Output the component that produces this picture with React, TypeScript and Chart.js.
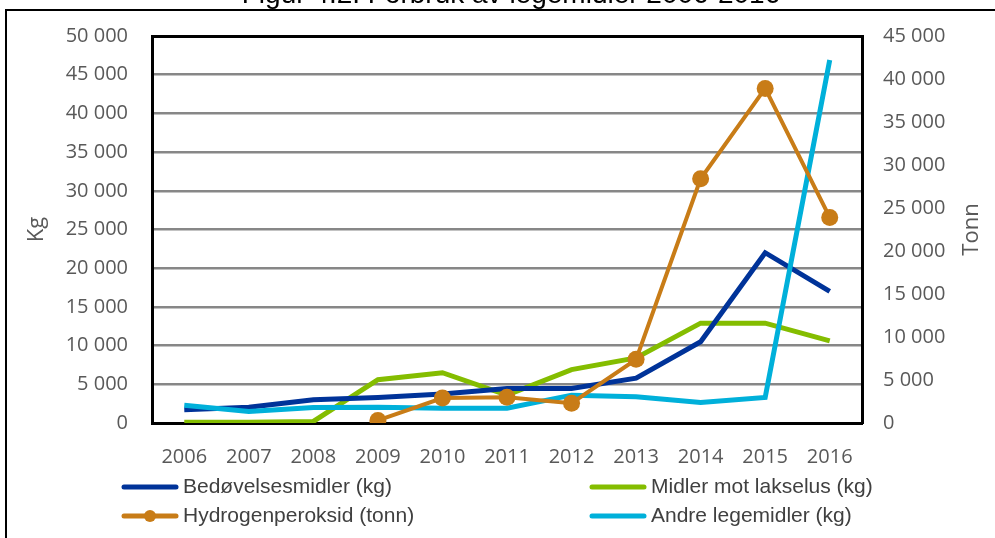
import React, { useEffect, useRef } from "react";
import { Chart, registerables } from "chart.js";

Chart.register(...registerables);

const titleText = "Figur 4.2. Forbruk av legemidler 2006-2016";
const years = ["2006", "2007", "2008", "2009", "2010", "2011", "2012", "2013", "2014", "2015", "2016"];
const seriesNames = [
  "Bedøvelsesmidler (kg)",
  "Midler mot lakselus (kg)",
  "Hydrogenperoksid (tonn)",
  "Andre legemidler (kg)",
];
const bedovelse = [1700, 2050, 3000, 3300, 3750, 4450, 4450, 5800, 10500, 22000, 17000];
const lakselus = [100, 100, 200, 5600, 6500, 3600, 6900, 8400, 12900, 12900, 10600];
const hydrogen = [null, null, null, 300, 2900, 3000, 2300, 7400, 28400, 38900, 23900];
const andre = [2300, 1500, 2000, 2050, 1900, 1900, 3600, 3400, 2650, 3300, 46900];
const leftAxis = { min: 0, max: 50000, step: 5000, title: "Kg" };
const rightAxis = { min: 0, max: 45000, step: 5000, title: "Tonn" };

const COLORS = ["#003399", "#84BD00", "#C87C17", "#00B0DA"];
const TICK_FONT = { family: "'Open Sans', sans-serif", size: 20 };
const TICK_COLOR = "#595959";
const LEGEND_FONT = "21px 'Liberation Sans', Arial, sans-serif";

const fmt = (v: number | string) =>
  String(v).replace(/\B(?=(\d{3})+(?!\d))/g, " ");

const framePlugin = {
  id: "frame",
  beforeDraw(chart: any) {
    const ctx = chart.ctx;
    ctx.save();
    ctx.fillStyle = "#ffffff";
    ctx.fillRect(0, 0, chart.width, chart.height);
    ctx.fillStyle = "#000000";
    ctx.font = "28px 'Liberation Sans', Arial, sans-serif";
    ctx.textAlign = "center";
    ctx.textBaseline = "alphabetic";
    ctx.fillText(titleText, 511, 3);
    ctx.strokeStyle = "#000000";
    ctx.lineWidth = 2;
    ctx.beginPath();
    ctx.moveTo(6, chart.height);
    ctx.lineTo(6, 10);
    ctx.lineTo(chart.width, 10);
    ctx.stroke();
    ctx.restore();
  },
  afterDraw(chart: any) {
    const ctx = chart.ctx;
    ctx.save();
    const area = chart.chartArea;
    ctx.translate(972, (area.top + area.bottom) / 2);
    ctx.rotate(-Math.PI / 2);
    ctx.font = "22px 'Open Sans', sans-serif";
    ctx.fillStyle = TICK_COLOR;
    ctx.textAlign = "center";
    ctx.textBaseline = "middle";
    ctx.fillText(rightAxis.title, 0, 0);
    ctx.restore();

    const colX = [122, 590];
    const rowY = [487, 516];
    const order = [0, 1, 2, 3];
    ctx.save();
    order.forEach((di, i) => {
      const ds = chart.data.datasets[di];
      const x0 = colX[i % 2];
      const y = rowY[Math.floor(i / 2)];
      ctx.strokeStyle = ds.borderColor;
      ctx.lineWidth = 5;
      ctx.lineCap = "round";
      ctx.beginPath();
      ctx.moveTo(x0 + 2, y);
      ctx.lineTo(x0 + 54, y);
      ctx.stroke();
      if (ds.pointRadius > 0) {
        ctx.fillStyle = ds.borderColor;
        ctx.beginPath();
        ctx.arc(x0 + 28, y, 6, 0, Math.PI * 2);
        ctx.fill();
      }
      ctx.fillStyle = "#404040";
      ctx.font = LEGEND_FONT;
      ctx.textAlign = "left";
      ctx.textBaseline = "middle";
      ctx.fillText(ds.label, x0 + 61, y);
    });
    ctx.restore();
  },
};

export default function App() {
  const ref = useRef<HTMLCanvasElement | null>(null);
  useEffect(() => {
    if (!ref.current) return;
    const chart = new Chart(ref.current, {
      type: "line",
      data: {
        labels: years,
        datasets: [
          {
            label: seriesNames[0],
            data: bedovelse,
            borderColor: COLORS[0],
            backgroundColor: COLORS[0],
            borderWidth: 5,
            pointRadius: 0,
            yAxisID: "y",
            order: 3,
          },
          {
            label: seriesNames[1],
            data: lakselus,
            borderColor: COLORS[1],
            backgroundColor: COLORS[1],
            borderWidth: 5,
            pointRadius: 0,
            yAxisID: "y",
            order: 4,
          },
          {
            label: seriesNames[2],
            data: hydrogen as any,
            borderColor: COLORS[2],
            backgroundColor: COLORS[2],
            pointBackgroundColor: COLORS[2],
            pointBorderWidth: 0,
            borderWidth: 4,
            pointRadius: 8.5,
            yAxisID: "y1",
            order: 1,
          },
          {
            label: seriesNames[3],
            data: andre,
            borderColor: COLORS[3],
            backgroundColor: COLORS[3],
            borderWidth: 5,
            pointRadius: 0,
            yAxisID: "y",
            order: 2,
          },
        ],
      },
      options: {
        animation: false,
        responsive: false,
        maintainAspectRatio: false,
        layout: { padding: { top: 33, left: 0, right: 0, bottom: 0 } },
        plugins: {
          legend: { display: false },
          title: { display: false },
          tooltip: { enabled: false },
        },
        scales: {
          x: {
            offset: true,
            grid: { display: false, drawTicks: false },
            border: { display: true, color: "#000", width: 3 },
            ticks: { font: TICK_FONT, color: TICK_COLOR, padding: 22, maxRotation: 0, autoSkip: false },
            afterFit: (s: any) => {
              s.height = 115;
            },
          },
          y: {
            position: "left",
            min: leftAxis.min,
            max: leftAxis.max,
            ticks: {
              stepSize: leftAxis.step,
              callback: (v: any) => fmt(v),
              padding: 24,
              font: TICK_FONT,
              color: TICK_COLOR,
            },
            grid: {
              drawTicks: false,
              color: (c: any) => (c.tick && c.tick.value === leftAxis.max ? "#000" : "#878787"),
              lineWidth: (c: any) => (c.tick && c.tick.value === leftAxis.max ? 3 : 2.5),
            },
            border: { display: true, color: "#000", width: 3 },
            title: {
              display: true,
              text: leftAxis.title,
              font: { family: "'Open Sans', sans-serif", size: 22 },
              color: TICK_COLOR,
              padding: { top: 24, bottom: 0 },
            },
            afterFit: (s: any) => {
              s.width = 152;
            },
          },
          y1: {
            position: "right",
            min: rightAxis.min,
            max: rightAxis.max,
            ticks: {
              stepSize: rightAxis.step,
              callback: (v: any) => fmt(v),
              padding: 21,
              font: TICK_FONT,
              color: TICK_COLOR,
            },
            grid: { display: false, drawTicks: false },
            border: { display: true, color: "#000", width: 3 },
            afterFit: (s: any) => {
              s.width = 133;
            },
          },
        },
      },
      plugins: [framePlugin],
    });
    return () => chart.destroy();
  }, []);
  return (
    <div style={{ position: "absolute", left: 0, top: 0, width: 995, height: 538 }}>
      <canvas ref={ref} width={995} height={538} style={{ width: 995, height: 538 }} />
    </div>
  );
}
